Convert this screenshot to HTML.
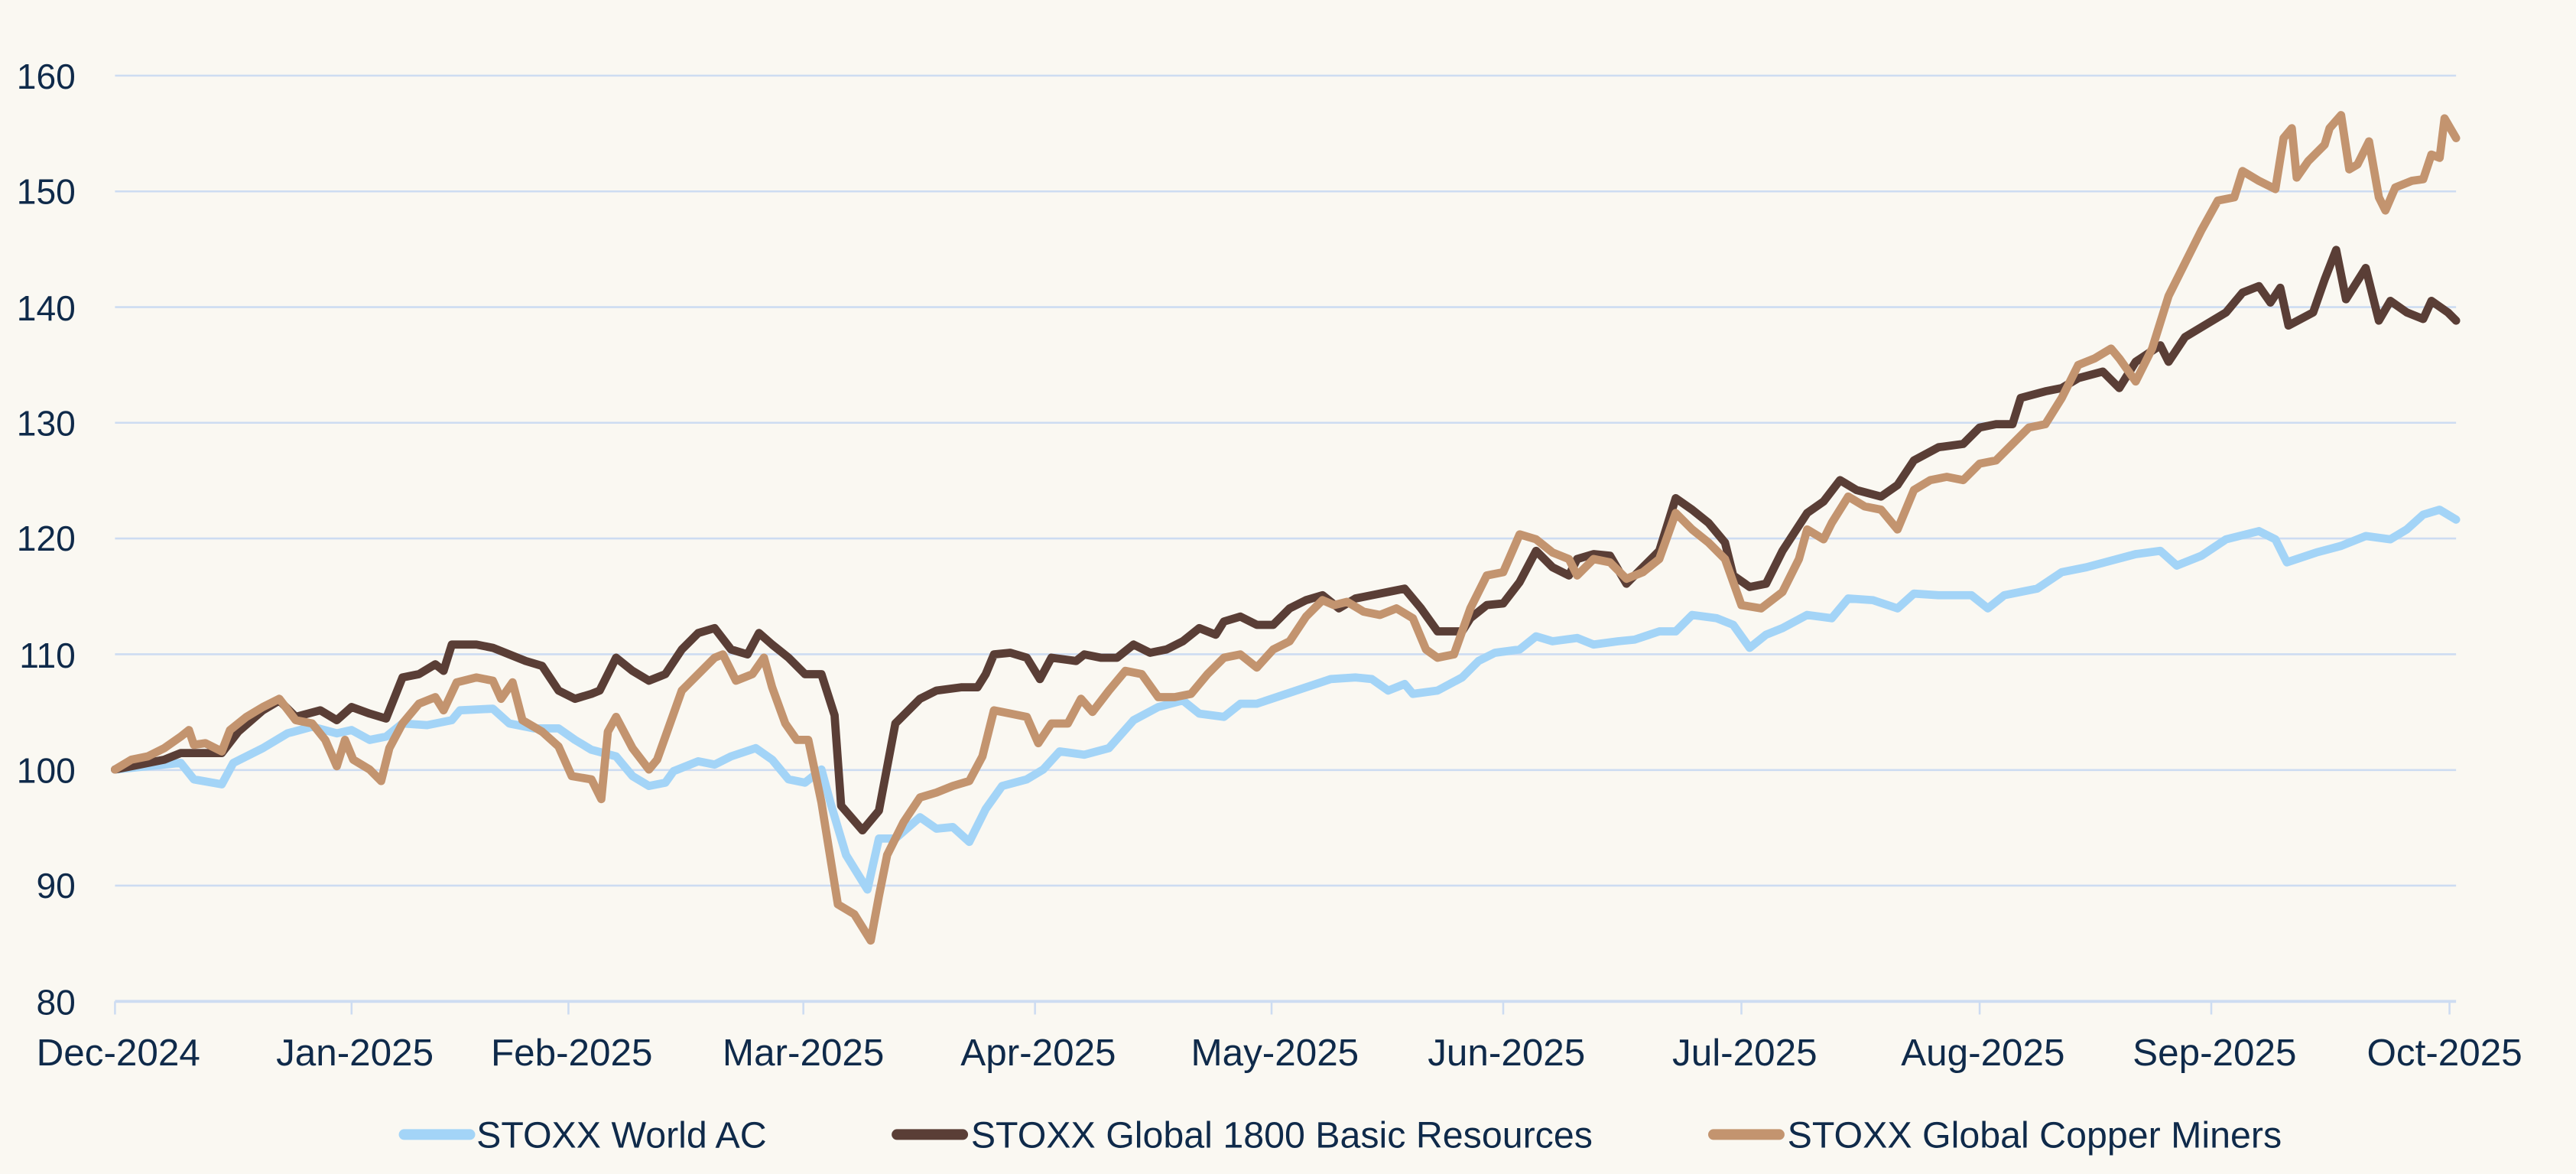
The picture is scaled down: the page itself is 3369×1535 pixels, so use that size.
<!DOCTYPE html>
<html><head><style>html,body{margin:0;padding:0;background:#faf8f2;}svg{display:block}</style></head>
<body>
<svg width="3369" height="1535" viewBox="0 0 1568 714" preserveAspectRatio="none" xmlns="http://www.w3.org/2000/svg">
<rect width="1568" height="714" fill="#faf8f2"/>
<g stroke="#cddcf2" stroke-width="1.2">
<line x1="70" x2="1495" y1="46" y2="46"/><line x1="70" x2="1495" y1="116.4" y2="116.4"/><line x1="70" x2="1495" y1="186.8" y2="186.8"/><line x1="70" x2="1495" y1="257.1" y2="257.1"/><line x1="70" x2="1495" y1="327.5" y2="327.5"/><line x1="70" x2="1495" y1="397.9" y2="397.9"/><line x1="70" x2="1495" y1="468.3" y2="468.3"/><line x1="70" x2="1495" y1="538.6" y2="538.6"/><line x1="70" x2="1495" y1="609" y2="609" stroke-width="1.8"/>
<g stroke-width="1.2"><line x1="70" x2="70" y1="609" y2="617"/><line x1="214" x2="214" y1="609" y2="617"/><line x1="346" x2="346" y1="609" y2="617"/><line x1="489" x2="489" y1="609" y2="617"/><line x1="630" x2="630" y1="609" y2="617"/><line x1="774" x2="774" y1="609" y2="617"/><line x1="915" x2="915" y1="609" y2="617"/><line x1="1060" x2="1060" y1="609" y2="617"/><line x1="1205" x2="1205" y1="609" y2="617"/><line x1="1346" x2="1346" y1="609" y2="617"/><line x1="1491" x2="1491" y1="609" y2="617"/></g>
</g>
<g font-family="Liberation Sans, sans-serif" font-size="21.5" fill="#0f2a4a" text-anchor="end">
<text x="46" y="54">160</text><text x="46" y="124">150</text><text x="46" y="195">140</text><text x="46" y="265">130</text><text x="46" y="335">120</text><text x="46" y="406">110</text><text x="46" y="476">100</text><text x="46" y="546">90</text><text x="46" y="617">80</text>
</g>
<g font-family="Liberation Sans, sans-serif" font-size="23" fill="#0f2a4a" text-anchor="middle">
<text x="72" y="648">Dec-2024</text><text x="216" y="648">Jan-2025</text><text x="348" y="648">Feb-2025</text><text x="489" y="648">Mar-2025</text><text x="632" y="648">Apr-2025</text><text x="776" y="648">May-2025</text><text x="917" y="648">Jun-2025</text><text x="1062" y="648">Jul-2025</text><text x="1207" y="648">Aug-2025</text><text x="1348" y="648">Sep-2025</text><text x="1488" y="648">Oct-2025</text>
</g>
<g fill="none" stroke-width="5" stroke-linejoin="round" stroke-linecap="round">
<polyline stroke="#a3d4f7" points="70,468 90,466 110,464 118,474 135,477 142,464 160,455 175,446 190,442 205,446 214,444 225,450 235,448 245,440 260,441 275,438 280,432 300,431 310,440 325,443 340,443 350,450 360,456 375,460 385,472 395,478 405,476 410,469 425,463 435,465 445,460 460,455 470,462 480,474 490,476 500,468 506,490 515,520 528,541 535,510 545,510 560,497 570,504 580,503 590,512 600,492 610,478 625,474 635,468 645,457 660,459 675,455 690,438 705,430 720,426 730,434 745,436 755,428 765,428 780,423 795,418 810,413 825,412 835,413 845,420 855,416 860,422 875,420 890,412 900,402 910,397 925,395 935,387 945,390 960,388 970,392 985,390 995,389 1010,384 1020,384 1030,374 1045,376 1055,380 1065,394 1075,386 1085,382 1100,374 1115,376 1125,364 1140,365 1155,370 1165,361 1180,362 1200,362 1210,370 1220,362 1240,358 1255,348 1270,345 1285,341 1300,337 1315,335 1325,344 1340,338 1355,328 1375,323 1385,328 1392,342 1410,336 1425,332 1440,326 1455,328 1465,322 1475,313 1485,310 1495,316"/>
<polyline stroke="#5a3e36" points="70,468 85,465 100,462 110,458 125,458 135,458 145,445 160,432 170,426 180,436 195,432 205,438 214,430 225,434 235,437 245,412 255,410 265,404 270,408 275,392 290,392 300,394 310,398 320,402 330,405 340,420 350,425 360,422 365,420 375,400 385,408 395,414 405,410 415,395 425,385 435,382 445,395 455,398 462,385 470,392 480,400 490,410 500,410 508,435 512,490 525,505 535,493 545,440 560,425 570,420 585,418 595,418 600,410 605,398 615,397 625,400 633,413 640,400 655,402 660,398 670,400 680,400 690,392 700,397 710,395 720,390 730,382 740,386 745,378 755,375 765,380 775,380 785,370 795,365 805,362 815,370 825,364 835,362 845,360 855,358 865,370 875,384 890,384 895,376 905,368 915,367 925,354 935,335 945,345 955,350 960,340 970,337 980,338 990,355 1000,345 1010,335 1020,303 1030,310 1040,318 1050,330 1055,350 1065,357 1075,355 1085,335 1100,312 1110,305 1120,292 1130,298 1145,302 1155,295 1165,280 1180,272 1195,270 1205,260 1215,258 1225,258 1230,242 1245,238 1255,236 1265,230 1280,226 1290,236 1300,220 1315,210 1320,220 1330,205 1345,196 1355,190 1365,178 1375,174 1382,184 1388,175 1393,198 1408,190 1415,170 1422,152 1428,182 1440,163 1448,195 1455,183 1465,190 1475,194 1480,183 1490,190 1495,195"/>
<polyline stroke="#c3946f" points="70,468 80,462 90,460 100,455 110,448 115,444 118,453 125,452 135,457 140,444 150,436 160,430 170,425 180,438 190,440 198,450 205,466 210,450 215,462 225,468 232,475 237,455 245,440 255,428 265,424 270,432 278,415 290,412 300,414 305,425 312,415 318,438 330,445 340,454 348,472 360,474 366,486 370,445 375,436 385,455 395,468 400,462 405,448 415,420 425,410 435,400 440,398 448,414 458,410 465,400 470,418 478,440 485,450 492,450 500,488 510,550 520,556 530,572 535,545 540,520 550,500 560,485 570,482 580,478 590,475 598,460 605,432 615,434 625,436 632,452 640,440 650,440 658,425 665,433 675,420 685,408 695,410 705,424 715,424 725,422 735,410 745,400 755,398 765,406 775,395 785,390 795,375 805,365 812,368 820,366 830,372 840,374 850,370 860,376 868,395 875,400 885,398 895,370 905,350 915,348 925,325 935,328 945,336 955,340 960,350 970,340 980,342 990,352 1000,348 1010,340 1020,312 1030,322 1040,330 1050,340 1060,368 1072,370 1085,360 1095,340 1100,322 1110,328 1115,318 1125,302 1135,308 1145,310 1155,322 1165,298 1175,292 1185,290 1195,292 1205,282 1215,280 1225,270 1235,260 1245,258 1255,242 1265,222 1275,218 1285,212 1290,218 1300,232 1310,212 1320,180 1330,160 1340,140 1350,122 1360,120 1365,104 1375,110 1385,115 1390,84 1395,78 1398,108 1405,98 1415,88 1418,78 1425,70 1430,103 1435,100 1442,86 1448,120 1452,128 1458,114 1468,110 1475,109 1480,94 1485,96 1488,72 1495,84"/>
</g>
<g stroke-width="6.5" stroke-linecap="round">
<line x1="246" x2="286" y1="690" y2="690" stroke="#a3d4f7"/>
<line x1="546" x2="586" y1="690" y2="690" stroke="#5a3e36"/>
<line x1="1043" x2="1083" y1="690" y2="690" stroke="#c3946f"/>
</g>
<g font-family="Liberation Sans, sans-serif" font-size="22.5" fill="#0f2a4a">
<text x="290" y="698">STOXX World AC</text>
<text x="591" y="698">STOXX Global 1800 Basic Resources</text>
<text x="1088" y="698">STOXX Global Copper Miners</text>
</g>
</svg>
</body></html>
